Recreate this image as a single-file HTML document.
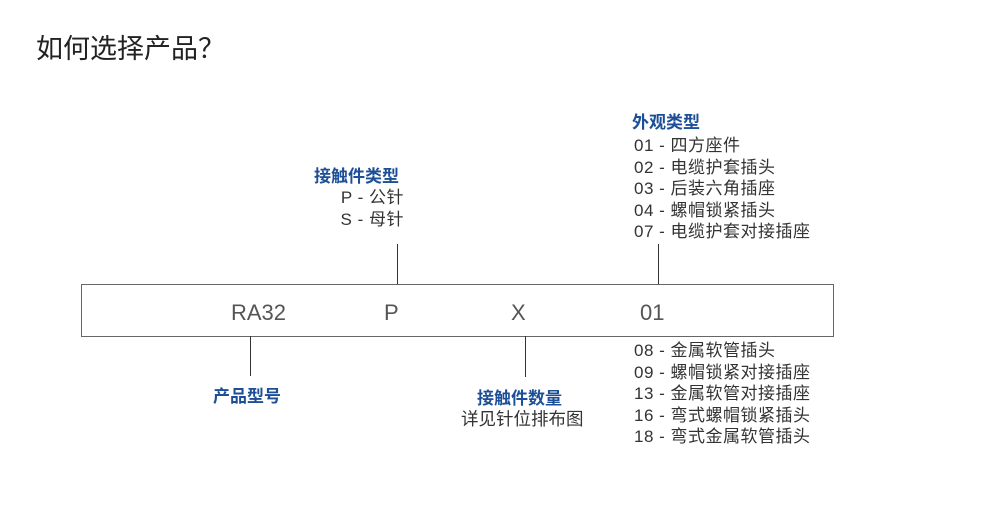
<!DOCTYPE html>
<html><head><meta charset="utf-8"><style>
body{margin:0;width:1000px;height:520px;background:#fff;position:relative;overflow:hidden;font-family:"Liberation Sans","Noto Sans CJK SC",sans-serif;color:#333}
.a{position:absolute;white-space:nowrap}
.b{color:#1d4f97;font-weight:bold;font-size:17px}
.t{font-size:17px;line-height:21.6px;letter-spacing:0.5px}
.v{font-size:22px;color:#555;top:300px}
.l{position:absolute;width:1px;background:#333}
</style></head><body>
<div class="a" style="left:36px;top:27px;font-size:27px;color:#222">如何选择产品？</div>
<div class="a" style="left:81px;top:284px;width:751px;height:51px;border:1px solid #666"></div>
<div class="a v" style="left:231px">RA32</div>
<div class="a v" style="left:384px">P</div>
<div class="a v" style="left:511px">X</div>
<div class="a v" style="left:640px">01</div>
<div class="l" style="left:397px;top:244px;height:40px"></div>
<div class="l" style="left:658px;top:244px;height:40px"></div>
<div class="l" style="left:250px;top:336px;height:40px"></div>
<div class="l" style="left:525px;top:336px;height:41px"></div>
<div class="a b" style="left:314px;top:162px">接触件类型</div>
<div class="a t" style="right:596px;top:187px;text-align:right">P - 公针<br>S - 母针</div>
<div class="a b" style="left:632px;top:108px">外观类型</div>
<div class="a t" style="left:634px;top:135px">01 - 四方座件<br>02 - 电缆护套插头<br>03 - 后装六角插座<br>04 - 螺帽锁紧插头<br>07 - 电缆护套对接插座</div>
<div class="a t" style="left:634px;top:340px">08 - 金属软管插头<br>09 - 螺帽锁紧对接插座<br>13 - 金属软管对接插座<br>16 - 弯式螺帽锁紧插头<br>18 - 弯式金属软管插头</div>
<div class="a b" style="left:213px;top:382px">产品型号</div>
<div class="a b" style="left:477px;top:384px">接触件数量</div>
<div class="a" style="left:461px;top:406px;font-size:17.5px">详见针位排布图</div>
</body></html>
